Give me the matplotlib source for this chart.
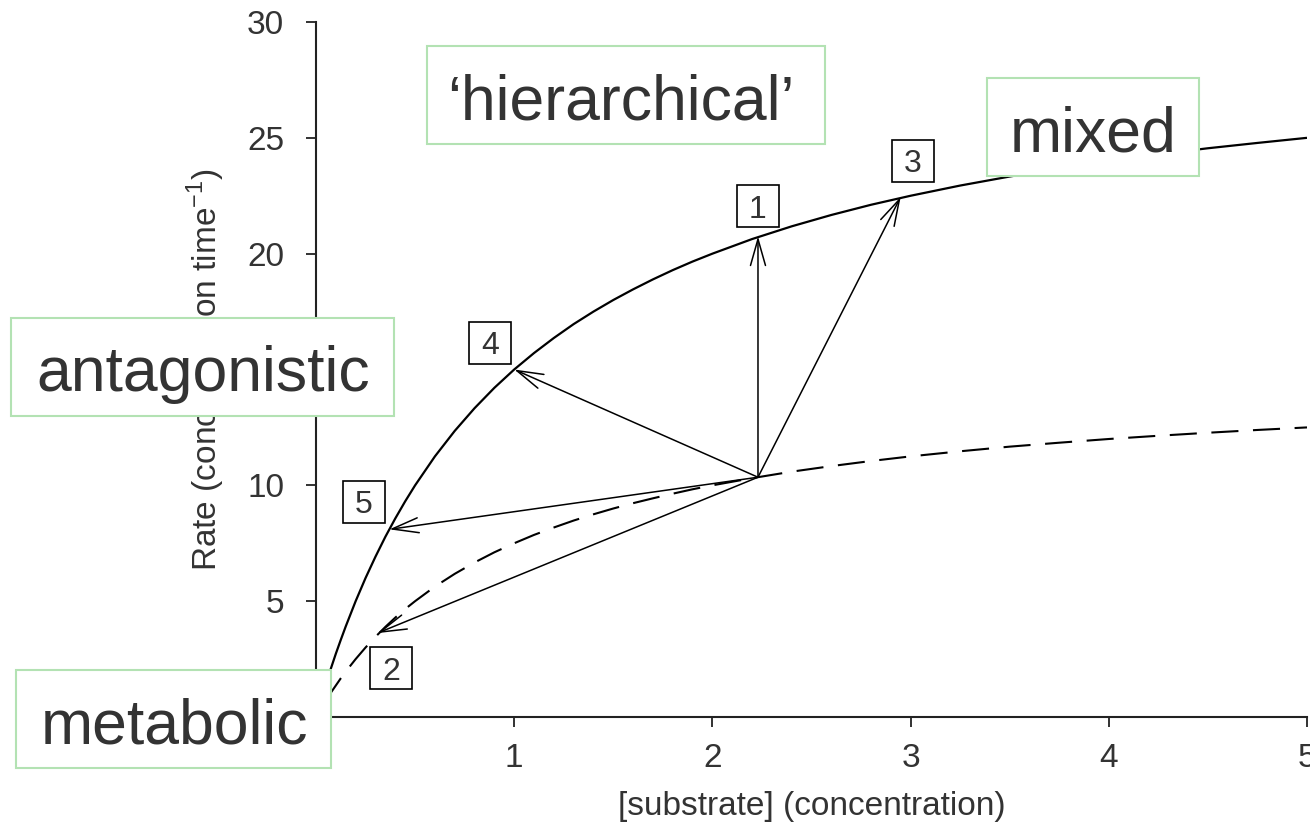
import matplotlib.pyplot as plt
from matplotlib.patches import Rectangle

plt.rcParams['font.family'] = ['Liberation Sans', 'DejaVu Sans']
plt.rcParams['mathtext.fontset'] = 'custom'
plt.rcParams['mathtext.rm'] = 'Liberation Sans'

# curves
sub_solid = [0, 0.025, 0.05, 0.075, 0.1, 0.125, 0.15, 0.2, 0.25, 0.3, 0.35, 0.4, 0.45,
             0.5, 0.6, 0.7, 0.8, 0.9, 1.0, 1.1, 1.2, 1.3, 1.4, 1.5, 1.6, 1.7, 1.8,
             1.9, 2.0, 2.2, 2.4, 2.6, 2.8, 3.0, 3.25, 3.5, 3.75, 4.0, 4.25, 4.5,
             4.75, 5.0]
rate_solid = [0, 0.73, 1.43, 2.09, 2.73, 3.33, 3.91, 5.0, 6.0, 6.92, 7.78, 8.57, 9.31,
              10.0, 11.25, 12.35, 13.33, 14.21, 15.0, 15.71, 16.36, 16.96, 17.5,
              18.0, 18.46, 18.89, 19.29, 19.66, 20.0, 20.63, 21.18, 21.67, 22.11,
              22.5, 22.94, 23.33, 23.68, 24.0, 24.29, 24.55, 24.78, 25.0]
sub_dashed = [0.05, 0.075, 0.1, 0.125, 0.15, 0.2, 0.25, 0.3, 0.35, 0.4, 0.45, 0.5,
              0.6, 0.7, 0.8, 0.9, 1.0, 1.1, 1.2, 1.3, 1.4, 1.5, 1.6, 1.7, 1.8, 1.9,
              2.0, 2.2, 2.4, 2.6, 2.8, 3.0, 3.25, 3.5, 3.75, 4.0, 4.25, 4.5, 4.75, 5.0]
rate_dashed = [0.71, 1.05, 1.36, 1.67, 1.96, 2.5, 3.0, 3.46, 3.89, 4.29, 4.66, 5.0,
               5.63, 6.18, 6.67, 7.11, 7.5, 7.86, 8.18, 8.48, 8.75, 9.0, 9.23, 9.44,
               9.64, 9.83, 10.0, 10.31, 10.59, 10.83, 11.05, 11.25, 11.47, 11.67,
               11.84, 12.0, 12.14, 12.27, 12.39, 12.5]

# start point and the five moves
start = (2.23, 10.35)
targets = {'1': (2.23, 20.75), '2': (0.31, 3.62), '3': (2.95, 22.45),
           '4': (1.0, 15.0), '5': (0.37, 8.1)}
label_pos = {'1': (2.23, 22.05), '2': (0.38, 2.1), '3': (3.01, 24.0),
             '4': (0.88, 16.15), '5': (0.24, 9.3)}

# big labels: text, box (left, top, right, bottom in px), text centre x, baseline y
boxes = [("\u2018hierarchical\u2019", (427, 46, 825, 144), 621, 119),
         ("mixed", (987, 78, 1199, 176), 1093, 152),
         ("antagonistic", (11, 318, 394, 416), 203, 391),
         ("metabolic", (16, 670, 331, 768), 175, 743)]

fig = plt.figure(figsize=(13.1, 8.3), dpi=100)
ax = fig.add_axes([316 / 1310, 113 / 830, 991 / 1310, 695 / 830])

ax.plot(sub_solid, rate_solid, color='black', lw=1.6, solid_capstyle='butt')
ax.plot(sub_dashed, rate_dashed, color='black', lw=1.5, dashes=(13, 7))

for k, xy in targets.items():
    ax.annotate('', xy=xy, xytext=start,
                arrowprops=dict(arrowstyle='->,head_length=0.95,head_width=0.27',
                                lw=1.1, color='black', shrinkA=0, shrinkB=0,
                                mutation_scale=20))
    lx, ly = label_pos[k]
    ax.plot(lx, ly, marker='s', markersize=30, mfc='white', mec='black', mew=1.2,
            zorder=4)
    ax.text(lx, ly, k, fontsize=23, color='#333333', ha='center',
            va='center_baseline', zorder=5)

ax.set_xlim(0, 5)
ax.set_ylim(0, 30)
ax.set_xticks(range(0, 6))
ax.set_yticks(range(0, 31, 5))
for s in ['top', 'right']:
    ax.spines[s].set_visible(False)
for s in ['left', 'bottom']:
    ax.spines[s].set_linewidth(1.5)
    ax.spines[s].set_color('#222222')
ax.tick_params(length=7, width=1.3, colors='#222222', labelcolor='#333333',
               labelsize=24)
ax.tick_params(axis='y', pad=16)
ax.tick_params(axis='x', pad=12)
ax.set_xlabel('[substrate] (concentration)', fontsize=24, color='#333333', labelpad=12)
ax.set_ylabel(r'Rate (concentration time$^{\mathregular{-1}}$)', fontsize=24,
              color='#333333', labelpad=14)

over = fig.add_axes([0, 0, 1, 1])
over.set_xlim(0, 1310)
over.set_ylim(830, 0)
over.set_axis_off()
over.patch.set_alpha(0)
for txt, (l, t, r, b), cx, by in boxes:
    over.add_patch(Rectangle((l, t), r - l, b - t, fc='white', ec='#b3e2b3', lw=1.5))
    over.text(cx, by, txt, fontsize=45, color='#333333', ha='center', va='baseline')

fig.savefig('out.png', dpi=100)
